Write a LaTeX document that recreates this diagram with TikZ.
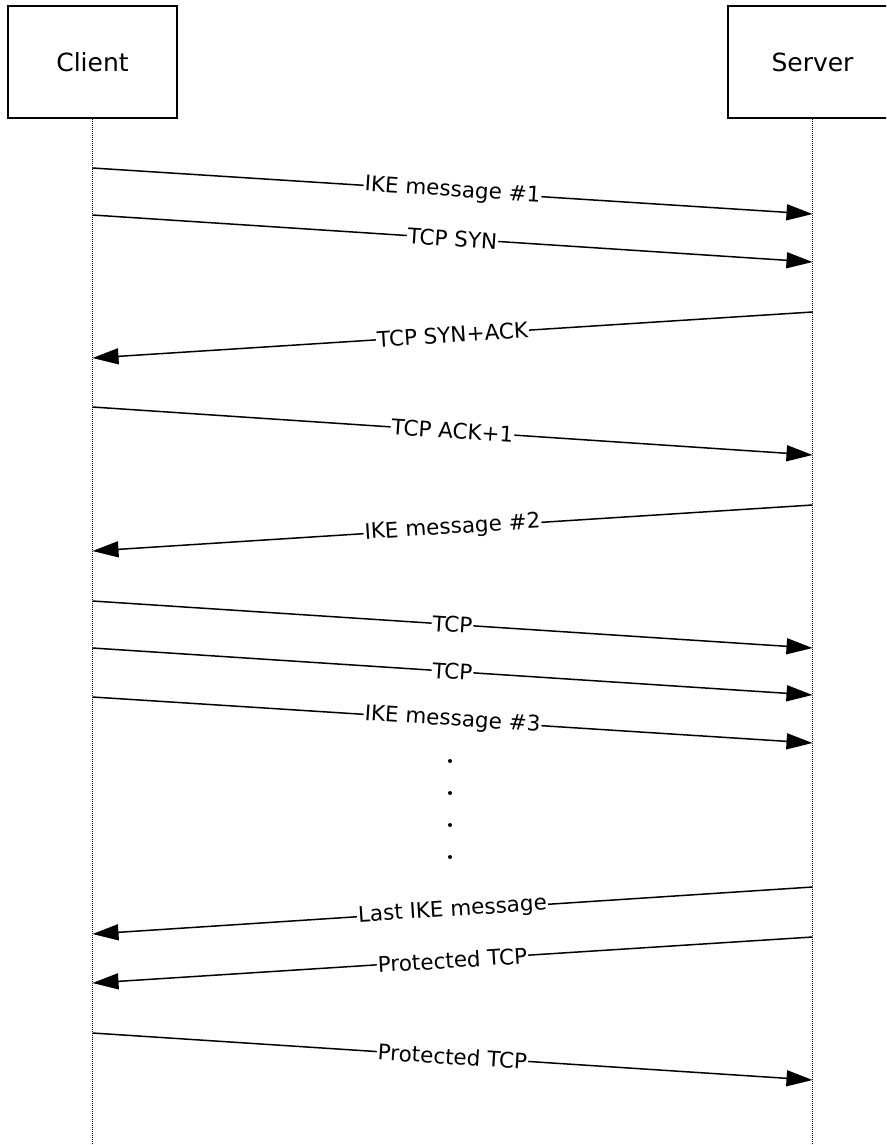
\documentclass[tikz,border=0pt]{standalone}
\usepackage{fontspec}
\setmainfont{DejaVu Sans}
\usetikzlibrary{arrows.meta}
\tikzset{actor/.style={draw, line width=1.4pt, minimum width=169pt, minimum height=112pt, inner sep=0pt, font=\fontsize{25}{30}\selectfont}}
\tikzset{lifeline/.style={line width=1.3pt, dash pattern=on 1pt off 1pt}}
\tikzset{msgarrow/.style={-{Triangle[length=26pt,width=16pt]}, line width=1.5pt}}
\tikzset{msglabel/.style={midway, sloped, fill=white, inner sep=1pt, font=\fontsize{21.5}{25}\selectfont}}

\begin{document}
\begin{tikzpicture}[x=1pt, y=-1pt]
\useasboundingbox (0,0) rectangle (886,1145);
\clip (0,0) rectangle (886,1145);
\node[actor] (client) at (92.5,62) {Client};
\node[actor] (server) at (812.5,62) {Server};
\coordinate (cbot) at (92.5,1145);
\coordinate (sbot) at (812.5,1145);
\draw[lifeline] (client) -- (cbot);
\draw[lifeline] (server) -- (sbot);
\foreach \n/\yc/\ys in {1/168/214, 2/215/262, 3/358/312, 4/407/455, 5/551/505, 6/601/648, 7/648/695, 8/697/743, 9/934/887, 10/983/937, 11/1033/1080}
  {\coordinate (c\n) at (92.5,\yc); \coordinate (s\n) at (812.5,\ys);}
\draw[msgarrow] (c1) -- node[msglabel] {IKE message \#1} (s1);
\draw[msgarrow] (c2) -- node[msglabel] {TCP SYN} (s2);
\draw[msgarrow] (s3) -- node[msglabel] {TCP SYN+ACK} (c3);
\draw[msgarrow] (c4) -- node[msglabel] {TCP ACK+1} (s4);
\draw[msgarrow] (s5) -- node[msglabel] {IKE message \#2} (c5);
\draw[msgarrow] (c6) -- node[msglabel] {TCP} (s6);
\draw[msgarrow] (c7) -- node[msglabel] {TCP} (s7);
\draw[msgarrow] (c8) -- node[msglabel] {IKE message \#3} (s8);
\foreach \y in {761,793,825,857} \fill (450,\y) circle (2pt);
\draw[msgarrow] (s9) -- node[msglabel] {Last IKE message} (c9);
\draw[msgarrow] (s10) -- node[msglabel] {Protected TCP} (c10);
\draw[msgarrow] (c11) -- node[msglabel] {Protected TCP} (s11);
\end{tikzpicture}
\end{document}
